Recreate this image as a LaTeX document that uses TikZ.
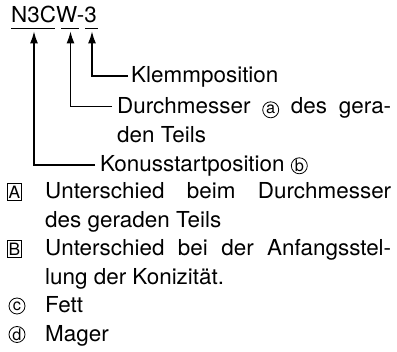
\documentclass[tikz,border=0pt]{standalone}
\usepackage{fontspec}
\setmainfont[FakeStretch=1.02]{TeX Gyre Heros}
\usetikzlibrary{arrows.meta}
\newcommand{\circlett}[1]{\tikz[baseline=(cl.base)]\node[circle,draw,line width=0.8pt,inner sep=0pt,minimum size=16pt,font=\fontsize{16}{16}\selectfont](cl){#1};}
\tikzset{
  txt/.style={anchor=base west,inner sep=0pt,font=\fontsize{22}{26}\selectfont},
  conn/.style={line width=1.1pt,-{Latex[length=12pt,width=8pt]}},
  uline/.style={line width=1.3pt},
  boxlet/.style={draw,line width=0.8pt,inner sep=0pt,minimum width=14pt,minimum height=17pt,font=\fontsize{17}{17}\selectfont},
  circlet/.style={circle,draw,line width=0.8pt,inner sep=0pt,minimum size=16pt,font=\fontsize{16}{16}\selectfont}
}
\begin{document}
\begin{tikzpicture}[x=1pt,y=-1pt]
\useasboundingbox (0,0) rectangle (397,352);
% code
\node[txt] (code) at (11,23) {N3CW-3};
\coordinate (u1a) at (11,28.5); \coordinate (u1b) at (55,28.5);
\coordinate (u2a) at (61,28.5); \coordinate (u2b) at (79,28.5);
\coordinate (u3a) at (85,28.5); \coordinate (u3b) at (98,28.5);
\draw[uline] (u1a) -- (u1b);
\draw[uline] (u2a) -- (u2b);
\draw[uline] (u3a) -- (u3b);
% arrow tips
\coordinate (t1) at (34,31.5);
\coordinate (t2) at (70.5,31.5);
\coordinate (t3) at (92,31.5);
% labels
\node[txt] (klemm) at (131,83) {Klemmposition};
\node[txt] (durch) at (117,114) {\makebox[274pt][s]{Durchmesser \circlett{a} des gera-}};
\node[txt] (teils) at (117,142.5) {den Teils};
\node[txt] (konus) at (100,171.5) {Konusstartposition \circlett{b}};
\coordinate (e3) at (128,76);
\coordinate (e2) at (112,106.5);
\coordinate (e1) at (95,165);
\draw[conn] (e3) -| (t3);
\draw[conn] (e2) -| (t2);
\draw[conn] (e1) -| (t1);
% legend
\node[boxlet] (bA) at (14.5,192) {A};
\node[txt] (lA1) at (45,199) {\makebox[346pt][s]{Unterschied beim Durchmesser}};
\node[txt] (lA2) at (45,227.5) {des geraden Teils};
\node[boxlet] (bB) at (14.5,249) {B};
\node[txt] (lB1) at (45,256) {\makebox[346pt][s]{Unterschied bei der Anfangsstel-}};
\node[txt] (lB2) at (45,284.5) {lung der Konizität.};
\node[circlet] (cC) at (17,306) {c};
\node[txt] (lC) at (45,313) {Fett};
\node[circlet] (cD) at (17,334.5) {d};
\node[txt] (lD) at (45,341.5) {Mager};
\end{tikzpicture}
\end{document}
